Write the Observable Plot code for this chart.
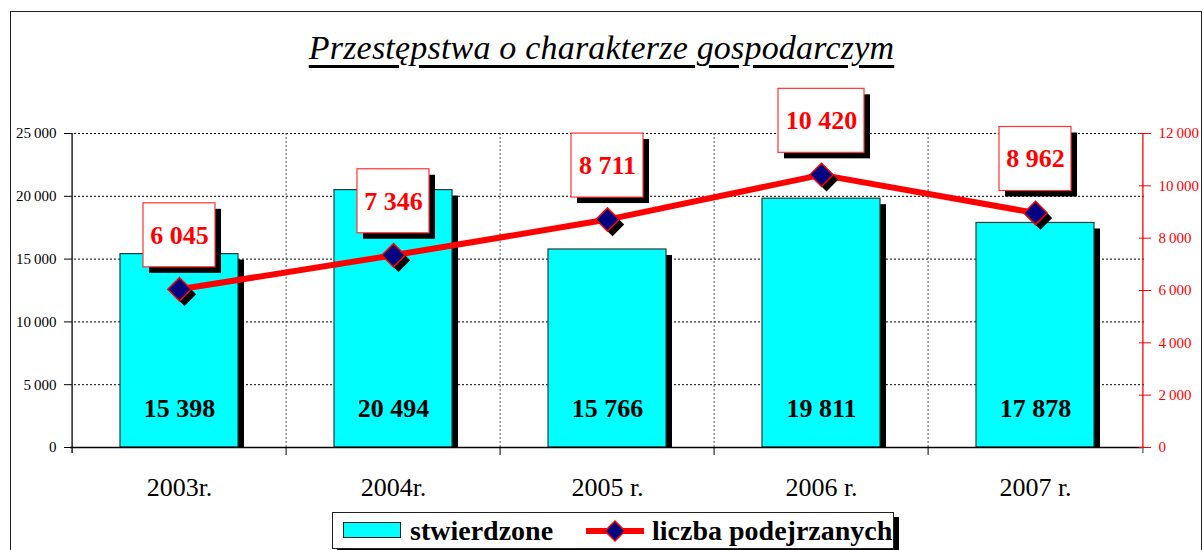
<!DOCTYPE html>
<html><head><meta charset="utf-8">
<script src="https://cdn.jsdelivr.net/npm/d3@7"></script>
<script src="https://cdn.jsdelivr.net/npm/@observablehq/plot@0.6"></script>
<style>
body{margin:0;background:#fff;}
#wrap{position:relative;width:1203px;height:550px;overflow:hidden;font-family:"Liberation Serif",serif;background:#fff;}
#frame{position:absolute;left:10px;top:11px;width:1190px;height:600px;border:1.5px solid #222;}
#title{position:absolute;left:0;width:1203px;top:28px;text-align:center;font-style:italic;font-size:34px;line-height:40px;text-decoration:underline;text-decoration-thickness:3px;text-underline-offset:6px;color:#000;letter-spacing:0.2px;}
#chart{position:absolute;left:0;top:0;}
#legend{position:absolute;left:332px;top:512px;width:560px;height:35px;border:1.5px solid #222;box-shadow:5px 5px 0 #000;background:#fff;}
#legend .sw{position:absolute;left:10px;top:9px;width:56px;height:14px;background:#00ffff;border:1.2px solid #222;}
#legend .t{position:absolute;top:0;line-height:35px;font-weight:bold;font-size:28px;color:#000;}
#legend svg{position:absolute;left:252px;top:5px;}
</style></head>
<body>
<div id="wrap">
  <div id="frame"></div>
  <div id="chart"></div>
  <div id="title">Przestępstwa o charakterze gospodarczym</div>
  <div id="legend">
    <div class="sw"></div>
    <div class="t" id="l1" style="left:77px"></div>
    <svg width="60" height="26"><line x1="1" y1="13" x2="59" y2="13" stroke="#ff0000" stroke-width="6"/><path d="M30,3 L40,13 L30,23 L20,13 Z" fill="#000080" stroke="#ff0000" stroke-width="1.5"/></svg>
    <div class="t" id="l2" style="left:319px"></div>
  </div>
</div>
<script>
const years = ["2003r.", "2004r.", "2005 r.", "2006 r.", "2007 r."];
const stwierdzone = [15398, 20494, 15766, 19811, 17878];
const podejrzani = [6045, 7346, 8711, 10420, 8962];
const leftTicks = [0, 5000, 10000, 15000, 20000, 25000];
const rightTicks = [0, 2000, 4000, 6000, 8000, 10000, 12000];
const seriesNames = ["stwierdzone", "liczba podejrzanych"];
const leftMax = 25000, rightMax = 12000;

document.getElementById("l1").textContent = seriesNames[0];
document.getElementById("l2").textContent = seriesNames[1];

const W = 1203, H = 510, mL = 70, mR = 59, mT = 133, mB = 63;
const k = leftMax / rightMax;
const u = leftMax / (H - mT - mB);
const bw = (W - mL - mR) / years.length;
const FF = "Liberation Serif, serif";

const fmtAxis = v => d3.format(",")(v).replace(/,/g, "\u2009");
const fmtVal = v => d3.format(",")(v).replace(/,/g, " ");

const data = years.map((y, i) => ({year: y, s: stwierdzone[i], p: podejrzani[i], py: podejrzani[i] * k, label: fmtVal(podejrzani[i])}));
const short = data.filter(d => d.label.length <= 5);
const long = data.filter(d => d.label.length > 5);

function boxes(arr, inset) {
  return [
    Plot.barY(arr, {x: "year", y1: "py", y2: "py", insetTop: -32, insetBottom: -32, insetLeft: inset, insetRight: inset, dy: -48, dx: 6, fill: "#000"}),
    Plot.barY(arr, {x: "year", y1: "py", y2: "py", insetTop: -32, insetBottom: -32, insetLeft: inset, insetRight: inset, dy: -54, fill: "#fff", stroke: "#ff3333", strokeWidth: 1.2})
  ];
}

const chart = Plot.plot({
  width: W, height: H,
  marginLeft: mL, marginRight: mR, marginTop: mT, marginBottom: mB,
  style: {fontFamily: FF, background: "transparent", overflow: "visible"},
  x: {type: "band", domain: years, paddingInner: 0, paddingOuter: 0, axis: null, label: null},
  y: {domain: [0, leftMax], axis: null, label: null},
  marks: [
    Plot.ruleY(leftTicks.filter(d => d > 0), {stroke: "#000", strokeDasharray: "2,2", strokeWidth: 1}),
    Plot.ruleX(years.slice(1), {x: d => d, dx: -bw / 2, stroke: "#555", strokeDasharray: "2,2", strokeWidth: 1}),
    Plot.barY(data, {x: "year", y1: 0, y2: d => d.s - 6 * u, dx: 6, fill: "#000", insetLeft: 48, insetRight: 48}),
    Plot.barY(data, {x: "year", y: "s", fill: "#00ffff", stroke: "#2b3b3b", strokeWidth: 1.2, insetLeft: 48, insetRight: 48}),
    Plot.text(data, {x: "year", text: d => fmtVal(d.s), frameAnchor: "bottom", dy: -31, fontSize: 26, fontWeight: "bold", fill: "#000", fontFamily: FF}),
    Plot.ruleY([0], {stroke: "#000", strokeWidth: 1.3}),
    Plot.ruleX(years.slice(1), {x: d => d, dx: -bw / 2, y1: 0, y2: -8 * u, stroke: "#000", strokeWidth: 1}),
    Plot.ruleX([years[0]], {x: d => d, dx: -bw / 2, y1: -6 * u, y2: leftMax, stroke: "#000", strokeWidth: 1.3}),
    Plot.ruleX([years[years.length - 1]], {x: d => d, dx: bw / 2, y1: -6 * u, y2: 0, stroke: "#666", strokeWidth: 1.3}),
    Plot.ruleX([years[years.length - 1]], {x: d => d, dx: bw / 2, y1: 0, y2: leftMax, stroke: "#ff0000", strokeWidth: 1.3}),
    Plot.axisY(leftTicks, {anchor: "left", tickSize: 6, tickPadding: 8, tickFormat: fmtAxis, fontSize: 15, fontFamily: FF, stroke: "#000", fill: "#000", label: null}),
    Plot.axisY(rightTicks.map(v => v * k), {anchor: "right", tickSize: 6, tickPadding: 8, tickFormat: v => fmtAxis(Math.round(v / k)), fontSize: 15, fontFamily: FF, stroke: "#ff0000", fill: "#ff0000", label: null}),
    Plot.axisY(rightTicks.map(v => v * k), {anchor: "right", tickSize: 6, dx: -6, tickFormat: () => "", stroke: "#ff0000", label: null}),
    Plot.axisX({tickSize: 0, tickPadding: 30, fontSize: 26, fontFamily: FF, fill: "#000", label: null}),
    Plot.line(data, {x: "year", y: "py", stroke: "#ff0000", strokeWidth: 6}),
    Plot.dot(data, {x: "year", y: "py", symbol: "diamond2", r: 10.5, fill: "#000", dx: 5, dy: 5}),
    Plot.dot(data, {x: "year", y: "py", symbol: "diamond2", r: 10.5, fill: "#000080", stroke: "#ff0000", strokeWidth: 1.5}),
    ...boxes(short, 71),
    ...boxes(long, 64),
    Plot.text(data, {x: "year", y: "py", dy: -54, text: "label", fill: "#ff0000", fontSize: 26, fontWeight: "bold", fontFamily: FF})
  ]
});
document.getElementById("chart").appendChild(chart);
</script>
</body></html>
